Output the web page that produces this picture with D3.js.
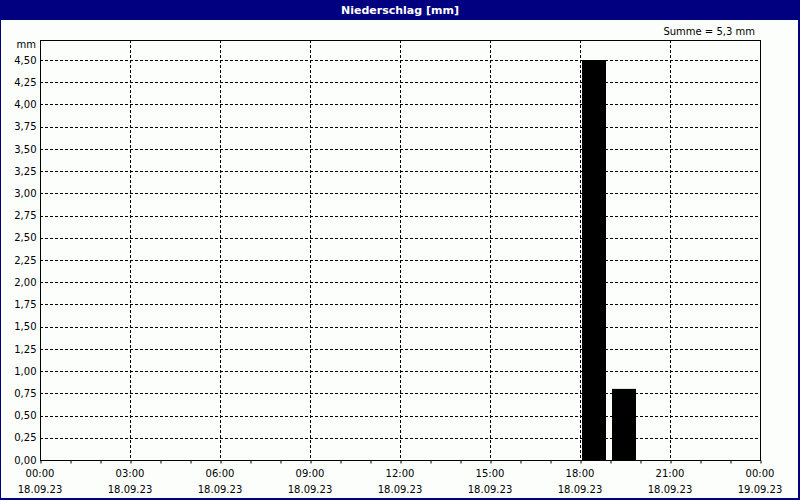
<!DOCTYPE html>
<html>
<head>
<meta charset="utf-8">
<script src="https://cdn.jsdelivr.net/npm/d3@7"></script>
<style>
  body { margin: 0; background: #fff; }
  text { font-family: "DejaVu Sans", "Liberation Sans", sans-serif; }
</style>
</head>
<body>
<div id="chart"></div>
<script>
// hourly precipitation (hour of day start, mm)
var hours = [18, 19];
var values = [4.5, 0.8];
var yTicks = [0, 0.25, 0.5, 0.75, 1, 1.25, 1.5, 1.75, 2, 2.25, 2.5, 2.75, 3, 3.25, 3.5, 3.75, 4, 4.25, 4.5];
var xTicks = [0, 3, 6, 9, 12, 15, 18, 21, 24];
var xDates = ["18.09.23", "18.09.23", "18.09.23", "18.09.23", "18.09.23", "18.09.23", "18.09.23", "18.09.23", "19.09.23"];
var title = "Niederschlag [mm]";
var sumLabel = "Summe = 5,3 mm";

var W = 800, H = 500;
var margin = {top: 40, right: 40, bottom: 40, left: 40},
    width = W - margin.left - margin.right,
    height = H - margin.top - margin.bottom;

var svg = d3.select("#chart")
    .append("svg")
    .attr("width", W)
    .attr("height", H);

// frame + title bar
svg.append("rect")
    .attr("x", 0).attr("y", 0).attr("width", W).attr("height", H)
    .style("fill", "#000080");
svg.append("rect")
    .attr("x", 1).attr("y", 20).attr("width", W - 3).attr("height", H - 22)
    .style("fill", "#fcfefc");
svg.append("text")
    .attr("x", W / 2).attr("y", 14)
    .attr("text-anchor", "middle")
    .style("font-size", "11px")
    .style("font-weight", "bold")
    .style("fill", "#fff")
    .text(title);
svg.append("text")
    .attr("x", 755).attr("y", 35)
    .attr("text-anchor", "end")
    .style("font-size", "10px")
    .text(sumLabel);

var g = svg.append("g")
    .attr("transform", "translate(" + margin.left + "," + margin.top + ")");

var x = d3.scaleLinear().domain([0, 24]).range([0, width]);
var y = d3.scaleLinear().domain([0, 4.725]).range([height, 0]);

// horizontal grid
g.selectAll(".hgrid")
    .data(yTicks.filter(function(d) { return d > 0; }))
    .enter().append("line")
    .attr("x1", 0).attr("x2", width)
    .attr("y1", function(d) { return Math.round(y(d)) + 0.5; })
    .attr("y2", function(d) { return Math.round(y(d)) + 0.5; })
    .style("stroke", "#000")
    .style("stroke-dasharray", "3,2");

// vertical grid
g.selectAll(".vgrid")
    .data(xTicks.filter(function(d) { return d > 0 && d < 24; }))
    .enter().append("line")
    .attr("x1", function(d) { return Math.round(x(d)) + 0.5; })
    .attr("x2", function(d) { return Math.round(x(d)) + 0.5; })
    .attr("y1", 0).attr("y2", height)
    .style("stroke", "#000")
    .style("stroke-dasharray", "3,2");

// bars
g.selectAll(".bar")
    .data(values)
    .enter().append("rect")
    .attr("x", function(d, i) { return x(hours[i]) + 2; })
    .attr("width", function(d, i) { return x(hours[i] + 1) - x(hours[i]) - 6; })
    .attr("y", function(d) { return y(d); })
    .attr("height", function(d) { return height - y(d); })
    .style("fill", "#000");

// plot frame
g.append("rect")
    .attr("x", 0.5).attr("y", 0.5).attr("width", width).attr("height", height)
    .style("fill", "none")
    .style("stroke", "#000");

// y axis labels
var yFmt = function(d) { return d.toFixed(2).replace(".", ","); };
g.append("g")
    .attr("transform", "translate(0.5,0)")
    .call(d3.axisLeft(y).tickValues(yTicks).tickSize(0).tickPadding(4).tickFormat(yFmt))
    .call(function(a) { a.select(".domain").remove(); })
    .selectAll("text")
    .style("font-size", "10px")
    .style("fill", "#000");
g.append("text")
    .attr("x", -4).attr("y", 8)
    .attr("text-anchor", "end")
    .style("font-size", "10px")
    .text("mm");

// x axis: hourly ticks, labels every 3h
var xa = g.append("g")
    .attr("transform", "translate(0," + (height + 0.5) + ")")
    .call(d3.axisBottom(x).ticks(24).tickSize(3).tickFormat(""));
xa.select(".domain").remove();
xa.selectAll("line").attr("transform", "translate(0.5,0)");

var lab = g.selectAll(".xlab")
    .data(xTicks)
    .enter().append("g")
    .attr("transform", function(d) { return "translate(" + x(d) + "," + height + ")"; });
lab.append("text")
    .attr("y", 17)
    .attr("text-anchor", "middle")
    .style("font-size", "10px")
    .text(function(d) { return (d % 24 < 10 ? "0" : "") + (d % 24) + ":00"; });
lab.append("text")
    .attr("y", 33)
    .attr("text-anchor", "middle")
    .style("font-size", "10px")
    .text(function(d, i) { return xDates[i]; });
</script>
</body>
</html>
